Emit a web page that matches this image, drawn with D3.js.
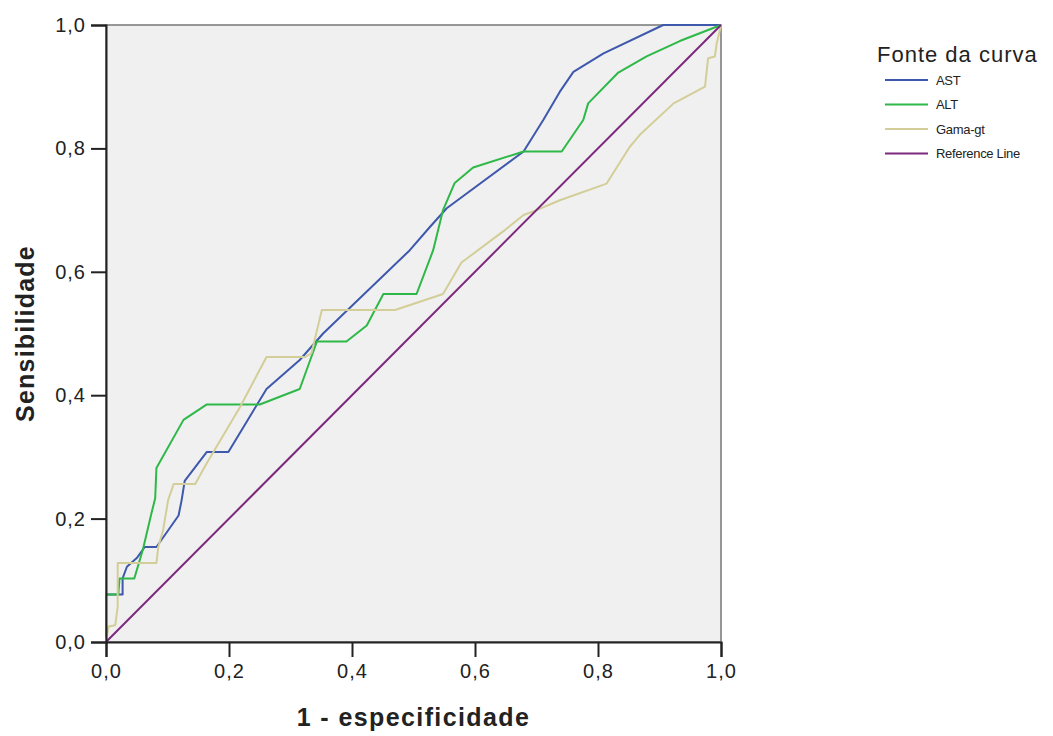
<!DOCTYPE html>
<html>
<head>
<meta charset="utf-8">
<script src="https://cdn.jsdelivr.net/npm/d3@7"></script>
<style>
  body { margin: 0; background: #fff; }
  svg text { font-family: "Liberation Sans", Arial, sans-serif; fill: #222; }
</style>
</head>
<body>
<div id="chart"></div>
<script>
// curve data (1 - specificity, sensitivity)
const astX = [0, 0, 0.027, 0.027, 0.034, 0.05, 0.063, 0.082, 0.118, 0.123, 0.128, 0.164, 0.199, 0.261, 0.315, 0.353, 0.494, 0.527, 0.554, 0.679, 0.711, 0.738, 0.76, 0.809, 0.906, 1.0];
const astY = [0, 0.077, 0.077, 0.103, 0.122, 0.136, 0.154, 0.154, 0.205, 0.23, 0.261, 0.308, 0.308, 0.41, 0.457, 0.5, 0.635, 0.673, 0.703, 0.795, 0.846, 0.892, 0.924, 0.954, 1.0, 1.0];

const altX = [0, 0, 0.02, 0.022, 0.046, 0.06, 0.074, 0.08, 0.082, 0.126, 0.164, 0.25, 0.315, 0.343, 0.391, 0.424, 0.451, 0.505, 0.532, 0.548, 0.567, 0.597, 0.679, 0.741, 0.776, 0.784, 0.833, 0.879, 0.933, 1.0];
const altY = [0, 0.077, 0.077, 0.103, 0.103, 0.15, 0.209, 0.233, 0.282, 0.36, 0.385, 0.385, 0.41, 0.487, 0.487, 0.513, 0.564, 0.564, 0.635, 0.7, 0.744, 0.769, 0.795, 0.795, 0.846, 0.873, 0.923, 0.949, 0.974, 1.0];

const ggtX = [0, 0.004, 0.015, 0.019, 0.019, 0.082, 0.085, 0.093, 0.101, 0.11, 0.145, 0.164, 0.218, 0.261, 0.324, 0.334, 0.351, 0.47, 0.548, 0.578, 0.649, 0.679, 0.7, 0.738, 0.814, 0.852, 0.868, 0.923, 0.974, 0.979, 0.99, 0.993, 1.0];
const ggtY = [0, 0.025, 0.027, 0.057, 0.128, 0.128, 0.154, 0.182, 0.23, 0.256, 0.256, 0.29, 0.381, 0.462, 0.462, 0.468, 0.538, 0.538, 0.564, 0.615, 0.668, 0.692, 0.7, 0.716, 0.743, 0.803, 0.822, 0.873, 0.9, 0.946, 0.949, 0.97, 1.0];

const refX = [0, 1];
const refY = [0, 1];

const seriesNames = ["AST", "ALT", "Gama-gt", "Reference Line"];
const seriesColors = ["#3e58ac", "#2eb848", "#d3ce97", "#7c287d"];
const tickValues = [0, 0.2, 0.4, 0.6, 0.8, 1.0];
const tickLabels = ["0,0", "0,2", "0,4", "0,6", "0,8", "1,0"];

const width = 1053, height = 736;
const plot = {left: 106, right: 721, top: 25, bottom: 642};

const svg = d3.select("#chart")
    .append("svg")
    .attr("width", width)
    .attr("height", height);

const x = d3.scaleLinear().domain([0, 1]).range([plot.left, plot.right]);
const y = d3.scaleLinear().domain([0, 1]).range([plot.bottom, plot.top]);

// plot background and frame
svg.append("rect")
    .attr("x", plot.left)
    .attr("y", plot.top)
    .attr("width", plot.right - plot.left)
    .attr("height", plot.bottom - plot.top)
    .attr("fill", "#f0f0f0")
    .attr("stroke", "#777")
    .attr("stroke-width", 1.5);

const series = [
    {name: seriesNames[0], xs: astX, ys: astY},
    {name: seriesNames[1], xs: altX, ys: altY},
    {name: seriesNames[2], xs: ggtX, ys: ggtY},
    {name: seriesNames[3], xs: refX, ys: refY}
];

const line = d3.line()
    .x(d => x(d[0]))
    .y(d => y(d[1]));

svg.selectAll(".curve")
    .data(series)
    .enter()
    .append("path")
    .attr("class", "curve")
    .attr("d", d => line(d.xs.map((v, i) => [v, d.ys[i]])))
    .attr("fill", "none")
    .attr("stroke", (d, i) => seriesColors[i])
    .attr("stroke-width", 2)
    .attr("stroke-linejoin", "round");

// axes
const fmt = d => tickLabels[tickValues.indexOf(d)];

const xAxis = svg.append("g")
    .attr("transform", `translate(0,${plot.bottom})`)
    .call(d3.axisBottom(x).tickValues(tickValues).tickFormat(fmt).tickSize(15).tickPadding(7));

const yAxis = svg.append("g")
    .attr("transform", `translate(${plot.left},0)`)
    .call(d3.axisLeft(y).tickValues(tickValues).tickFormat(fmt).tickSize(15).tickPadding(5));

[xAxis, yAxis].forEach(g => {
    g.select(".domain").attr("stroke", "#222").attr("stroke-width", 2);
    g.selectAll(".tick line").attr("stroke", "#222").attr("stroke-width", 2);
    g.selectAll(".tick text")
        .style("font-size", "20px")
        .style("letter-spacing", "1px")
        .attr("fill", "#222");
});

// axis titles
svg.append("text")
    .attr("x", (plot.left + plot.right) / 2)
    .attr("y", 726)
    .attr("text-anchor", "middle")
    .style("font-size", "25px")
    .style("font-weight", "bold")
    .style("letter-spacing", "1.4px")
    .text("1 - especificidade");

svg.append("text")
    .attr("transform", `translate(34,${(plot.top + plot.bottom) / 2}) rotate(-90)`)
    .attr("text-anchor", "middle")
    .style("font-size", "25px")
    .style("font-weight", "bold")
    .style("letter-spacing", "1.2px")
    .text("Sensibilidade");

// legend
const legend = svg.append("g");

legend.append("text")
    .attr("x", 877)
    .attr("y", 62)
    .style("font-size", "22px")
    .style("letter-spacing", "1px")
    .text("Fonte da curva");

const items = legend.selectAll(".item")
    .data(seriesNames)
    .enter()
    .append("g")
    .attr("class", "item")
    .attr("transform", (d, i) => `translate(0,${80 + i * 24.5})`);

items.append("line")
    .attr("x1", 885)
    .attr("x2", 928)
    .attr("y1", 0)
    .attr("y2", 0)
    .attr("stroke", (d, i) => seriesColors[i])
    .attr("stroke-width", 2);

items.append("text")
    .attr("x", 936)
    .attr("y", 4.5)
    .style("font-size", "13px")
    .style("letter-spacing", "-0.3px")
    .text(d => d);
</script>
</body>
</html>
